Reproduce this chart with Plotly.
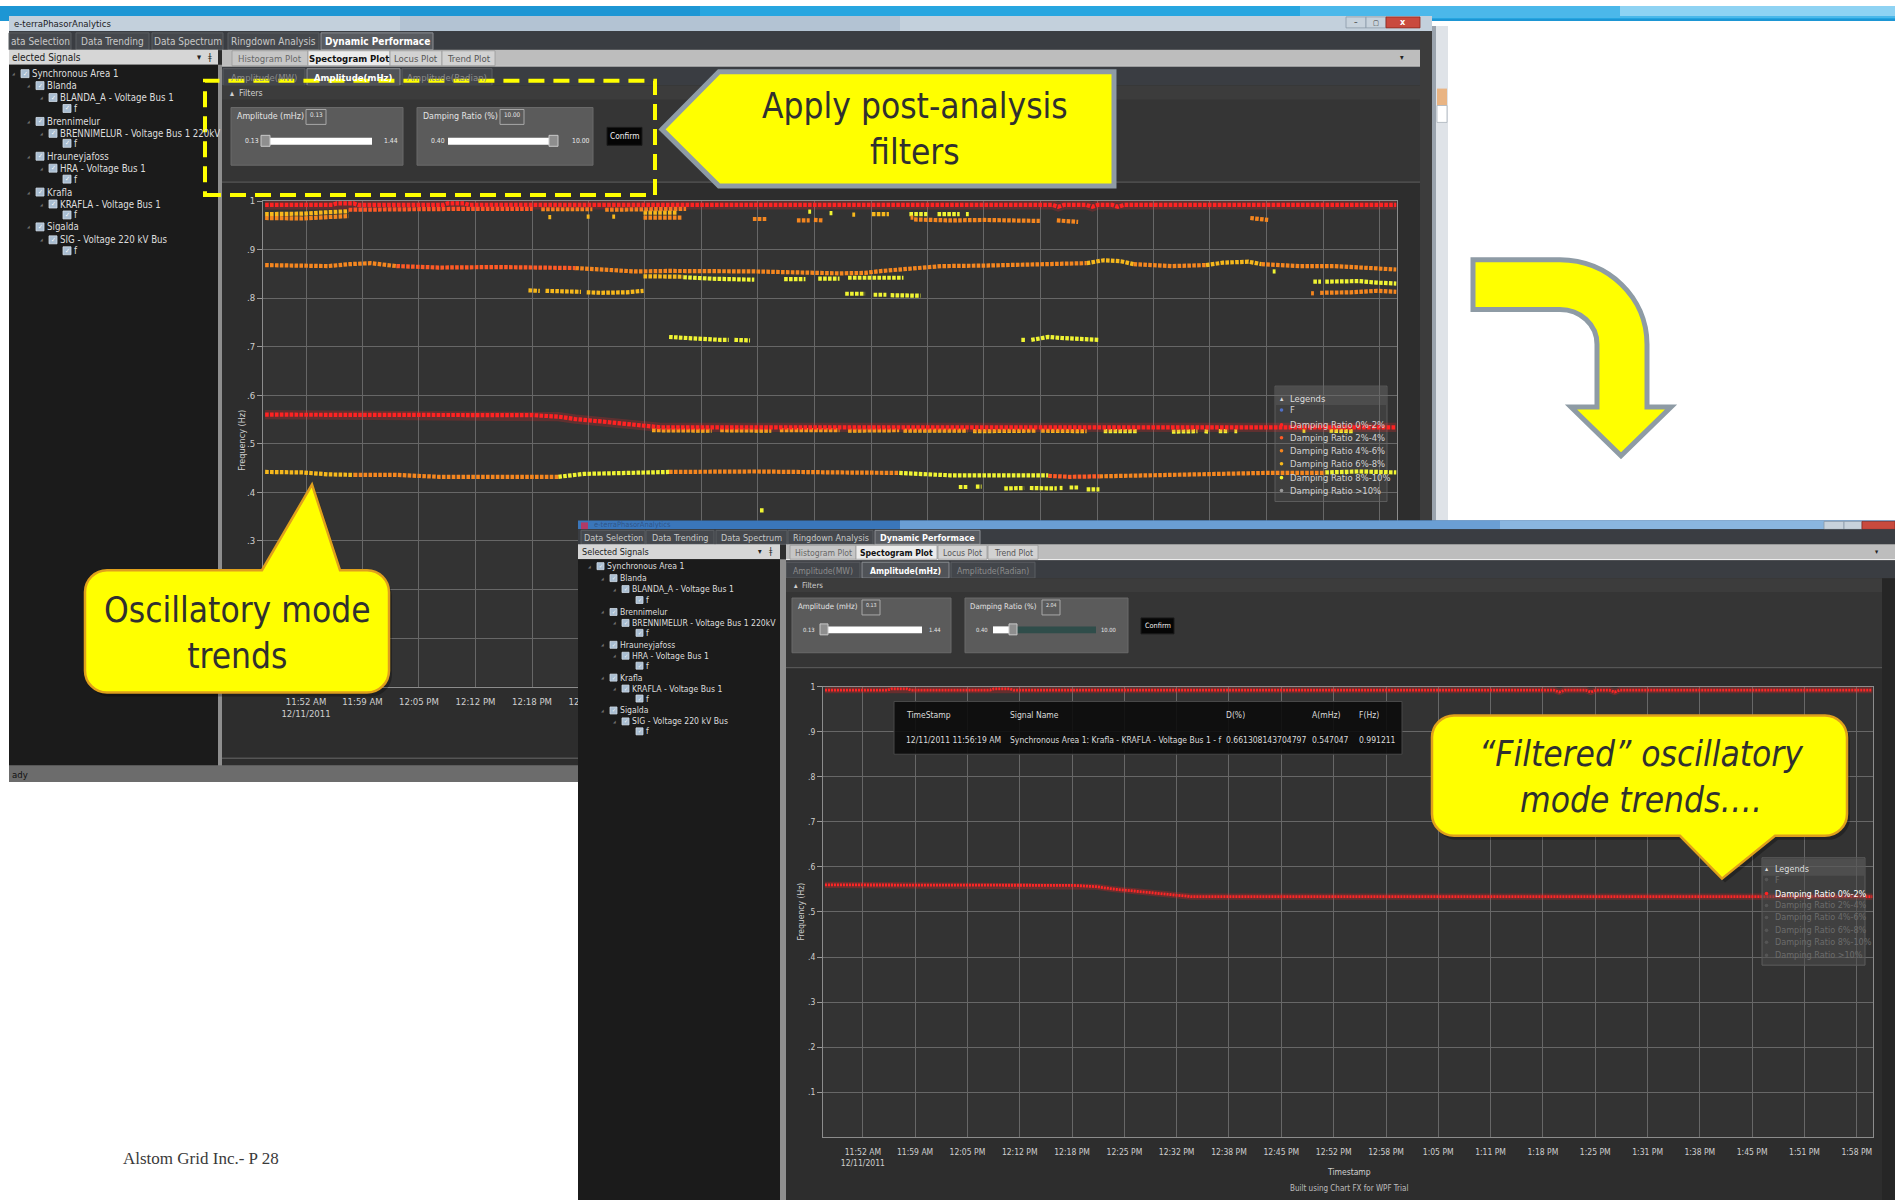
import pandas as pd
import plotly.graph_objects as go

W, H = 1895, 1200
DAY = "2011-12-11 "
UI = "Liberation Sans Narrow, DejaVu Sans Condensed, Arial Narrow, sans-serif"
SERIF = "Liberation Serif, DejaVu Serif, serif"

# ---------------------------------------------------------------- data
tick_labels = ["11:52 AM<br>12/11/2011", "11:59 AM", "12:05 PM", "12:12 PM", "12:18 PM",
               "12:25 PM", "12:32 PM", "12:38 PM", "12:45 PM", "12:52 PM", "12:58 PM",
               "1:05 PM", "1:11 PM", "1:18 PM", "1:25 PM", "1:31 PM", "1:38 PM",
               "1:45 PM", "1:51 PM", "1:58 PM"]
y_tick_values = [0.1, 0.2, 0.3, 0.4, 0.5, 0.6, 0.7, 0.8, 0.9, 1.0]
y_tick_labels = [".1", ".2", ".3", ".4", ".5", ".6", ".7", ".8", ".9", "1"]

# damping ratio 0%-2% : mode near 1 Hz and the inter-area mode near 0.55 Hz
dr_0_2_upper_time = ["11:47:36", "11:55:30", "11:56", "11:58", "11:58:30", "12:08:30", "12:09", "12:11",
                     "12:11:30", "13:20", "13:20:40", "13:21:20", "13:24", "13:24:40", "13:25:20",
                     "13:27", "13:27:40", "13:28:20", "14:00:20"]
dr_0_2_upper_freq = [0.992, 0.992, 0.995, 0.995, 0.992, 0.992, 0.995, 0.995,
                     0.992, 0.992, 0.988, 0.992, 0.992, 0.988, 0.992,
                     0.992, 0.988, 0.992, 0.992]
dr_0_2_mode_time = ["11:47:36", "12:10", "12:19", "12:22", "12:24", "12:27", "12:29:30", "12:32",
                    "12:34", "13:00", "13:30", "14:00:20"]
dr_0_2_mode_freq = [0.560, 0.559, 0.559, 0.556, 0.551, 0.546, 0.542, 0.537,
                    0.534, 0.534, 0.534, 0.534]

# damping ratio 2%-4%
dr_2_4_time = ["12:03", "12:08", "12:15", "12:24", None,
               "13:19:30", "13:22", "13:25:30", None,
               "11:57:24", "12:05", "12:12", "12:19"]
dr_2_4_freq = [0.866, 0.863, 0.864, 0.862, None,
               0.434, 0.432, 0.433, None,
               0.982, 0.984, 0.984, 0.984]

# damping ratio 4%-6%
dr_4_6_time = ["11:47:36", "11:52", "11:55", "11:57:30", "12:00", "12:03", None,
               "12:24", "12:28", "12:31", "12:35", "12:45", "12:55", "12:58", "13:00", "13:04",
               "13:07", "13:12", "13:17", "13:22", "13:24", None,
               "13:29:30", "13:34", "13:38", None,
               "13:44:30", "13:49", "13:53", "13:57", "14:00:20", None,
               "11:58", "12:03", "12:08", "12:15", "12:22", None,
               "12:35", "12:45", "12:55", "13:02", None,
               "13:25:30", "13:32", "13:38", "13:45", "13:52", None,
               "11:47:36", "11:52", "11:55", "11:57:24", None,
               "12:20", "12:26", None, "12:27:30", "12:32", "12:37", None,
               "12:32", "12:36:30", None,
               "12:44:50", "12:46:30", None, "12:50", "12:51:30", None, "12:52", "12:53", None,
               "13:03:20", "13:03:40", None,
               "13:03:45", "13:08", "13:12", "13:16", "13:18:30", None,
               "13:20:30", "13:23", None, "13:43:12", "13:45:18", None,
               "13:51:24", "13:55", "13:58", "14:00:20", None, "13:50:20", "13:50:40"]
dr_4_6_freq = [0.868, 0.867, 0.866, 0.870, 0.872, 0.866, None,
               0.862, 0.857, 0.855, 0.856, 0.855, 0.851, 0.852, 0.856, 0.861,
               0.866, 0.867, 0.869, 0.870, 0.872, None,
               0.870, 0.866, 0.868, None,
               0.870, 0.866, 0.866, 0.862, 0.859, None,
               0.436, 0.436, 0.432, 0.431, 0.432, None,
               0.442, 0.443, 0.441, 0.440, None,
               0.433, 0.436, 0.438, 0.440, 0.440, None,
               0.965, 0.964, 0.967, 0.969, None,
               0.983, 0.983, None, 0.982, 0.982, 0.984, None,
               0.966, 0.966, None,
               0.963, 0.963, None, 0.960, 0.960, None, 0.961, 0.960, None,
               0.966, 0.966, None,
               0.962, 0.960, 0.961, 0.960, 0.959, None,
               0.960, 0.957, None, 0.965, 0.961, None,
               0.811, 0.812, 0.815, 0.813, None, 0.810, 0.810]

# damping ratio 6%-8%
dr_6_8_time = ["13:24", "13:26", "13:28", "13:29:30", None,
               "13:38", "13:40", "13:43", "13:44:30", None,
               "11:47:36", "11:52", "11:55", "11:58", None,
               "11:47:36", "11:52", "11:55", "11:57:24", None,
               "12:32", "12:36", None,
               "12:20:50", "12:21:10", None, "12:25:20", "12:25:40", None, "12:28:20", "12:28:40", None,
               "12:56:30", "12:56:50", None, "12:58:48", "13:00:48", None,
               "12:32", "12:36:40", None,
               "12:18:30", "12:19:50", None, "12:20:30", "12:24", "12:24:40", None,
               "12:25:20", "12:27", "12:30", "12:32", None,
               "12:33", "12:40", None, "12:41", "12:47", None, "12:48", "12:55", None,
               "12:56", "13:02", None, "13:02:30", "13:10", None, "13:10:40", "13:18", None,
               "13:18:40", "13:24"]
dr_6_8_freq = [0.872, 0.878, 0.876, 0.870, None,
               0.868, 0.873, 0.875, 0.870, None,
               0.442, 0.441, 0.437, 0.436, None,
               0.973, 0.974, 0.977, 0.979, None,
               0.976, 0.976, None,
               0.967, 0.967, None, 0.968, 0.968, None, 0.968, 0.968, None,
               0.972, 0.972, None, 0.973, 0.973, None,
               0.845, 0.844, None,
               0.816, 0.815, None, 0.815, 0.814, 0.813, None,
               0.812, 0.811, 0.812, 0.815, None,
               0.528, 0.527, None, 0.528, 0.527, None, 0.528, 0.528, None,
               0.527, 0.528, None, 0.527, 0.527, None, 0.526, 0.527, None,
               0.527, 0.526]

# damping ratio 8%-10%
dr_8_10_time = ["12:22", "12:25", "12:30", "12:35", None,
                "13:02", "13:08", "13:14", "13:19:30", None,
                "13:52", "13:56", "14:00:20", None,
                "12:36:40", "12:40", "12:45", None, "12:48:30", "12:51", None,
                "12:52:30", "12:55", None, "12:56", "13:00", "13:02:30", None,
                "13:45:50", "13:46:10", None,
                "13:50:36", "13:51:30", None, "13:52", "13:56", "13:58", "14:00:20", None,
                "12:55:40", "12:58", None, "12:59", "13:00:30", None, "13:01", "13:04:30", None,
                "12:35", "12:37", "12:39", "12:41", "12:42", None, "12:42:40", "12:44:30", None,
                "13:16:20", "13:16:50", None,
                "13:17:30", "13:18:30", "13:19:30", "13:21", "13:23", "13:25:30", None,
                "12:51:20", "12:51:40", None, "12:53:50", "12:54:10", None,
                "13:03:12", "13:05:18", None, "13:06:30", "13:09:06", None, "13:09:50", "13:10:10", None,
                "13:26", "13:30", None, "13:34", "13:37", None, "13:37:50", "13:38:20", None,
                "13:39:30", "13:40:40", None, "13:41:20", "13:41:40", None,
                "13:49:20", "13:49:40", None, "13:52:30", "13:55:20", None,
                "13:09", "13:10", None, "13:11", "13:11:40", None,
                "13:14:20", "13:16", "13:16:40", None, "13:17:20", "13:18", "13:20:30", None,
                "13:20:50", "13:21:10", None, "13:22", "13:23", None, "13:24", "13:25:30", None,
                "12:45:40", "12:46:10"]
dr_8_10_freq = [0.432, 0.438, 0.440, 0.442, None,
                0.440, 0.435, 0.435, 0.435, None,
                0.441, 0.443, 0.441, None,
                0.843, 0.840, 0.838, None, 0.839, 0.839, None,
                0.840, 0.840, None, 0.842, 0.843, 0.842, None,
                0.855, 0.855, None,
                0.834, 0.834, None, 0.834, 0.835, 0.832, 0.830, None,
                0.809, 0.809, None, 0.807, 0.807, None, 0.806, 0.805, None,
                0.720, 0.719, 0.716, 0.714, 0.714, None, 0.714, 0.713, None,
                0.714, 0.714, None,
                0.714, 0.716, 0.720, 0.718, 0.716, 0.714, None,
                0.978, 0.978, None, 0.975, 0.975, None,
                0.973, 0.973, None, 0.973, 0.973, None, 0.973, 0.973, None,
                0.526, 0.526, None, 0.525, 0.526, None, 0.526, 0.525, None,
                0.526, 0.526, None, 0.526, 0.526, None,
                0.527, 0.527, None, 0.527, 0.526, None,
                0.411, 0.411, None, 0.412, 0.412, None,
                0.408, 0.410, 0.409, None, 0.409, 0.409, 0.408, None,
                0.409, 0.409, None, 0.410, 0.410, None, 0.406, 0.406, None,
                0.363, 0.363]

legend_labels = ["F", "Damping Ratio 0%-2%", "Damping Ratio 2%-4%", "Damping Ratio 4%-6%",
                 "Damping Ratio 6%-8%", "Damping Ratio 8%-10%", "Damping Ratio >10%"]

tooltip_headers = ["TimeStamp", "Signal Name", "D(%)", "A(mHz)", "F(Hz)"]
tooltip_values = ["12/11/2011 11:56:19 AM", "Synchronous Area 1: Krafla - KRAFLA - Voltage Bus 1 - f",
                  "0.661308143704797", "0.547047", "0.991211"]

tree_rows = [(0, "Synchronous Area 1"), (1, "Blanda"), (2, "BLANDA_A - Voltage Bus 1"), (3, "f"),
             (1, "Brennimelur"), (2, "BRENNIMELUR - Voltage Bus 1 220kV"), (3, "f"),
             (1, "Hrauneyjafoss"), (2, "HRA - Voltage Bus 1"), (3, "f"),
             (1, "Krafla"), (2, "KRAFLA - Voltage Bus 1"), (3, "f"),
             (1, "Sigalda"), (2, "SIG - Voltage 220 kV Bus"), (3, "f")]

# ---------------------------------------------------------------- styles
C02, C24, C46, C68, C810, CGT, CF = "#ff2222", "#ff5a26", "#f5861f", "#f7b81c", "#f0f433", "#9a9a9a", "#5070c8"
legend_colors = [CF, C02, C24, C46, C68, C810, CGT]

tick_start = pd.Timestamp(DAY + "11:52:24")
tick_step = pd.Timedelta(seconds=397.8)
tick_vals = [(tick_start + i * tick_step).strftime("%Y-%m-%d %H:%M:%S") for i in range(len(tick_labels))]
x_range = [DAY + "11:47:21", DAY + "14:00:25"]

# the upper window only shows the labels that are not hidden behind the lower window / callout
w1_tick_labels = [s if i < 6 else "" for i, s in enumerate(tick_labels)]
w1_y_tick_labels = [s if v >= 0.3 else "" for v, s in zip(y_tick_values, y_tick_labels)]


def stamp(seq):
    return [None if t is None else DAY + t for t in seq]


shapes, notes = [], []


def X(v):
    return v / W


def Y(v):
    return 1 - v / H


def P(x, y):
    return f"{X(x):.5f},{Y(y):.5f}"


def rect(x0, y0, x1, y1, fill, line=None, lw=0, layer="below", dash=None):
    ln = dict(color=line if line else "rgba(0,0,0,0)", width=lw)
    if dash:
        ln["dash"] = dash
    shapes.append(dict(type="rect", xref="paper", yref="paper", x0=X(x0), y0=Y(y1), x1=X(x1), y1=Y(y0),
                       fillcolor=fill, line=ln, layer=layer))


def seg(x0, y0, x1, y1, color, lw=1, layer="below"):
    shapes.append(dict(type="line", xref="paper", yref="paper", x0=X(x0), y0=Y(y0), x1=X(x1), y1=Y(y1),
                       line=dict(color=color, width=lw), layer=layer))


def dot(x, y, r, color, layer="above"):
    shapes.append(dict(type="circle", xref="paper", yref="paper", x0=X(x - r), x1=X(x + r), y0=Y(y + r),
                       y1=Y(y - r), fillcolor=color, line=dict(width=0), layer=layer))


def path(d, fill, line, lw, layer="above"):
    shapes.append(dict(type="path", xref="paper", yref="paper", path=d, fillcolor=fill,
                       line=dict(color=line, width=lw), layer=layer))


def txt(x, y, s, size=10, color="#d6d6d6", anchor="left", family=UI, bold=False, italic=False, angle=0):
    if bold:
        s = f"<b>{s}</b>"
    if italic:
        s = f"<i>{s}</i>"
    notes.append(dict(xref="paper", yref="paper", x=X(x), y=Y(y), text=s, showarrow=False, xanchor=anchor,
                      yanchor="middle", textangle=angle, font=dict(size=size, color=color, family=family)))


K = 0.5523


def callout(x0, y0, x1, y1, r, side, xa, xb, tx, ty, dx=0, dy=0):
    x0, x1, xa, xb, tx = x0 + dx, x1 + dx, xa + dx, xb + dx, tx + dx
    y0, y1, ty = y0 + dy, y1 + dy, ty + dy
    k = K * r
    d = f"M {P(x0 + r, y0)}"
    if side == "top":
        d += f" L {P(xa, y0)} L {P(tx, ty)} L {P(xb, y0)}"
    d += f" L {P(x1 - r, y0)} C {P(x1 - r + k, y0)} {P(x1, y0 + r - k)} {P(x1, y0 + r)}"
    d += f" L {P(x1, y1 - r)} C {P(x1, y1 - r + k)} {P(x1 - r + k, y1)} {P(x1 - r, y1)}"
    if side == "bottom":
        d += f" L {P(xb, y1)} L {P(tx, ty)} L {P(xa, y1)}"
    d += f" L {P(x0 + r, y1)} C {P(x0 + r - k, y1)} {P(x0, y1 - r + k)} {P(x0, y1 - r)}"
    d += f" L {P(x0, y0 + r)} C {P(x0, y0 + r - k)} {P(x0 + r - k, y0)} {P(x0 + r, y0)} Z"
    return d


def tabs(items, y0, y1, active, size, layer, fill="#45484d", afill="#585b60", tcol="#c8c8c8"):
    for i, (label, a, b) in enumerate(items):
        on = i == active
        rect(a, y0, b, y1, afill if on else fill, "#8c8f93" if on else "#5b5e62", 1, layer)
        txt((a + b) / 2, (y0 + y1) / 2 + 0.5, label, size,
            "#ffffff" if on else tcol, "center", bold=on)


def tree(ys, xs, size, box, layer):
    for (lvl, label), y in zip(tree_rows, ys):
        cx = xs[lvl]
        if lvl < 3:
            txt(cx - 8, y, "◢", 4, "#6e6e6e", "center")
        rect(cx, y - box / 2, cx + box, y + box / 2, "#a9bdd1", "#d2dde8", 0.8, layer)
        txt(cx + box / 2, y, "✓", size - 3, "#ffffff", "center")
        txt(cx + box + 1, y, label, size, "#dedede")


def subtabs(items, y0, y1, size, layer):
    for label, a, b, fill, col, bold in items:
        rect(a, y0, b, y1, fill, "#9a9a9a", 0.8, layer)
        txt((a + b) / 2, (y0 + y1) / 2 + 0.5, label, size, col, "center", bold=bold)


def filters(x_left, x_right, y_head, y_sep, amp, damp, confirm, size, layer):
    rect(x_left, y_head, x_right, y_sep, "#353535", layer=layer)
    rect(x_left, y_head, x_right, y_head + 14, "#3c3c3c", layer=layer)
    seg(x_left, y_sep, x_right, y_sep, "#565656", 1.2, layer)
    txt(x_left + 6, y_head + 7, "▴  Filters", size, "#d0d0d0")
    for p in (amp, damp):
        (bx0, by0, bx1, by1, title, tx, vbox, val, lo, lo_x, bar_w, thumb, rest, hi, hi_x, sy) = p
        rect(bx0, by0, bx1, by1, "#5b5b5b", "#6a6a6a", 1, layer)
        txt(tx, by0 + 9, title, size, "#e4e4e4")
        rect(vbox[0], by0 + 2, vbox[1], by0 + 17, "rgba(0,0,0,0)", "#a8a8a8", 1, layer)
        txt((vbox[0] + vbox[1]) / 2, by0 + 7, val, size - 2.5, "#e8e8e8", "center")
        txt(lo_x, sy, lo, size - 2, "#e8e8e8")
        rect(bar_w[0], sy - 3.5, bar_w[1], sy + 3.5, "#ffffff", layer=layer)
        if rest:
            rect(rest[0], sy - 3.5, rest[1], sy + 3.5, "#2f4d4a", layer=layer)
        rect(thumb[0], sy - 6, thumb[1], sy + 5, "#8e8e8e", "#c8c8c8", 1, layer)
        txt(hi_x, sy, hi, size - 2, "#e8e8e8")
    cx0, cy0, cx1, cy1 = confirm
    rect(cx0, cy0, cx1, cy1, "#050505", "#1a1a1a", 1, layer)
    txt((cx0 + cx1) / 2, (cy0 + cy1) / 2, "Confirm", size - 0.5, "#f2f2f2", "center")


def legend_panel(x0, y0, x1, y1, ys, tx, dx, size, fill, text_cols, dot_cols, layer):
    rect(x0, y0, x1, y1, fill, "#5c5c5c", 1, layer)
    rect(x0 + 1, y0 + 1, x1 - 1, ys[0] + 7, "rgba(95,95,95,0.45)", layer=layer)
    txt(dx - 2, ys[0], "▴", size - 2, "#d8d8d8")
    txt(tx, ys[0], "Legends", size, "#dedede")
    for label, y, tc, dc in zip(legend_labels, ys[1:], text_cols, dot_cols):
        dot(dx + 1.5, y, 1.8, dc)
        txt(tx, y, label, size, tc)


# ---------------------------------------------------------------- slide background
rect(0, 0, 1895, 15, "#1d96d4")
rect(700, 0, 1895, 13, "#27a6e0")
rect(1300, 0, 1895, 12, "#4bb8ea")
rect(1620, 0, 1895, 10, "#8fd3f3")

# ---------------------------------------------------------------- window 1 chrome
rect(9, 10, 1432, 780, "#2b2b2b")
rect(9, 10, 1432, 25, "#c3d0dc")
rect(400, 10, 900, 25, "#b3c3d3")
txt(12, 18, "e-terraPhasorAnalytics", 9.5, "#1c1c1c")
rect(1346, 11, 1366, 22, "#c7d2dc", "#8c9aa8", 0.8)
rect(1366, 11, 1386, 22, "#c7d2dc", "#8c9aa8", 0.8)
rect(1386, 11, 1420, 22, "#c94a3e", "#8a2a20", 0.8)
txt(1356, 17, "–", 8, "#333", "center")
txt(1376, 17, "▢", 7, "#333", "center")
txt(1403, 16.5, "x", 9, "#ffffff", "center", bold=True)
rect(9, 25, 1432, 44, "#3a3d42")
tabs([("ata Selection", 9, 71), ("Data Trending", 76, 149), ("Data Spectrum", 152, 223),
      ("Ringdown Analysis", 228, 319), ("Dynamic Performace", 321, 433)], 27, 44, 4, 10, "below")
rect(9, 44, 218, 59, "#d6d6d6")
txt(10, 51.5, "elected Signals", 10, "#202020")
txt(199, 51, "▾", 9, "#222", "center")
txt(210, 51, "ǂ", 9, "#222", "center")
rect(222, 44, 1420, 60, "#bdbdbd")
seg(222, 60.5, 1420, 60.5, "#ececec", 1.5)
subtabs([("Histogram Plot", 232, 308, "#c6c6c6", "#666666", False),
         ("Spectogram Plot", 308, 390, "#ececec", "#111111", True),
         ("Locus Plot", 390, 442, "#d2d2d2", "#555555", False),
         ("Trend Plot", 442, 495, "#d2d2d2", "#555555", False)], 45, 60, 9.5, "below")
txt(1402, 52, "▾", 8, "#222", "center")
rect(222, 61, 1420, 770, "#2d2d2d")
rect(1420, 25, 1432, 780, "#3c3c3c")
rect(222, 61, 1420, 80, "#3a3d42")
tabs([("Amplitude(MW)", 223, 305), ("Amplitude(mHz)", 307, 400), ("Amplitude(Radian)", 402, 492)],
     63, 80, 1, 9.5, "below", fill="#43464b", afill="#505358", tcol="#8c8c8c")
filters(222, 1420, 80, 177,
        (231, 102, 403, 160, "Amplitude (mHz)", 235, (306, 326), "0.13", "0.13", 243, (270, 372),
         (261, 270), None, "1.44", 382, 136),
        (417, 102, 593, 160, "Damping Ratio (%)", 421, (500, 524), "10.00", "0.40", 429, (448, 553),
         (549, 558), None, "10.00", 570, 136),
        (607, 122, 642, 140), 8.8, "below")
rect(9, 59, 218, 764, "#1b1b1b")
rect(218, 59, 222, 764, "#8e8e8e")
tree([68, 80, 92, 103, 116, 128, 138, 151, 163, 174, 187, 199, 210, 222, 235, 246],
     [21, 36, 49, 63], 9.6, 8, "below")
seg(222, 756, 1420, 756, "#555555", 1.5)
rect(9, 763, 1432, 780, "#6c6c6c")
txt(10, 772, "ady", 9.5, "#111111")
# neighbouring window sliver
rect(1432, 20, 1448, 517, "#dfe3e8")
rect(1432, 20, 1436, 517, "#9aa3ad")
rect(1437, 83, 1447, 100, "#e9b483")
rect(1437, 100, 1447, 117, "#ffffff", "#aab2bb", 0.8)

# window 1 plot background and legend (under the data)
rect(263, 196, 1397, 684, "#333333")
legend_panel(1275, 382, 1387, 498, [394, 406, 421, 434, 447, 460, 474, 487], 1288, 1280, 9.4,
             "rgba(72,72,72,0.55)", ["#d2d2d2"] * 7, legend_colors, "below")

# ---------------------------------------------------------------- window 2 chrome (on top of its backdrop)
A = "above"
rect(578, 517, 1895, 526, "#3a76ba", layer=A)
rect(900, 517, 1500, 526, "#6a9ed4", layer=A)
rect(1500, 517, 1895, 526, "#8ab6e0", layer=A)
rect(581, 519, 588, 526, "#b23a66", layer=A)
txt(592, 521.5, "e-terraPhasorAnalytics", 7.5, "rgba(30,40,70,0.45)")
rect(1824, 518, 1844, 526, "#c7d2dc", "#8c9aa8", 0.8, A)
rect(1844, 518, 1862, 526, "#c7d2dc", "#8c9aa8", 0.8, A)
rect(1862, 518, 1895, 526, "#c94a3e", "#8a2a20", 0.8, A)
rect(578, 526, 1895, 541, "#3a3d42", layer=A)
tabs([("Data Selection", 581, 645), ("Data Trending", 646, 714), ("Data Spectrum", 716, 787),
      ("Ringdown Analysis", 788, 873), ("Dynamic Performace", 875, 980)], 527, 541, 4, 9, A)
rect(578, 541, 780, 556, "#d6d6d6", layer=A)
txt(580, 548.5, "Selected Signals", 9, "#202020")
txt(760, 548, "▾", 8, "#222", "center")
txt(771, 548, "ǂ", 8, "#222", "center")
rect(786, 541, 1895, 556, "#bdbdbd", layer=A)
seg(786, 556.5, 1895, 556.5, "#ececec", 1.5, A)
subtabs([("Histogram Plot", 790, 856, "#c6c6c6", "#666666", False),
         ("Spectogram Plot", 856, 937, "#ececec", "#111111", True),
         ("Locus Plot", 938, 987, "#d2d2d2", "#555555", False),
         ("Trend Plot", 988, 1038, "#d2d2d2", "#555555", False)], 542, 556, 8.6, A)
txt(1877, 549, "▾", 7, "#222", "center")
rect(786, 557, 1895, 575, "#3a3d42", layer=A)
tabs([("Amplitude(MW)", 786, 860), ("Amplitude(mHz)", 862, 949), ("Amplitude(Radian)", 951, 1035)],
     559, 575, 1, 8.6, A, fill="#43464b", afill="#505358", tcol="#8c8c8c")
filters(786, 1895, 575, 665,
        (792, 595, 951, 650, "Amplitude (mHz)", 796, (862, 880), "0.13", "0.13", 801, (828, 922),
         (820, 828), None, "1.44", 927, 627),
        (965, 595, 1128, 650, "Damping Ratio (%)", 968, (1042, 1060), "2.04", "0.40", 974, (993, 1010),
         (1009, 1017), (1017, 1096), "10.00", 1099, 627),
        (1141, 615, 1174, 631), 7.8, A)
rect(578, 556, 780, 1200, "#1b1b1b", layer=A)
rect(780, 556, 786, 1200, "#8e8e8e", layer=A)
tree([563, 575, 586, 597, 609, 620, 630, 642, 653, 663, 675, 686, 696, 708, 719, 729],
     [597, 610, 622, 636], 8.6, 7, A)
rect(1882, 575, 1895, 1200, "#262626", layer=A)

# tooltip over the filtered chart
rect(894, 699, 1402, 752, "rgba(10,10,10,0.88)", "#484848", 1, A)
for head, val, x in zip(tooltip_headers, tooltip_values, [904, 1008, 1224, 1310, 1357]):
    txt(x, 713, head, 8.5, "#dcdcdc")
    txt(x, 738, val, 8.5, "#dcdcdc")

# legend of the filtered chart: only the 0%-2% class remains active
legend_panel(1762, 856, 1865, 964, [867, 878, 892, 904, 916, 929, 941, 954], 1773, 1765, 9,
             "rgba(78,78,78,0.5)",
             ["#6c6c6c", "#ffffff", "#6c6c6c", "#6c6c6c", "#6c6c6c", "#6c6c6c", "#6c6c6c"],
             ["#555555", C02, "#555555", "#555555", "#555555", "#555555", "#555555"], A)

txt(1349, 1172, "Timestamp", 8.5, "#cfcfcf", "center")
txt(1349, 1188, "Built using Chart FX for WPF Trial", 8, "#bdbdbd", "center")
txt(801, 910, "Frequency (Hz)", 8.5, "#cfcfcf", "center", angle=-90)
txt(242, 437, "Frequency (Hz)", 9, "#cfcfcf", "center", angle=-90)

# ---------------------------------------------------------------- callouts
BORDER = "#8e9ba5"
path(f"M {P(662, 124)} L {P(719, 66)} L {P(1114, 66)} L {P(1114, 181)} L {P(719, 181)} Z",
     "#ffff00", BORDER, 5)
txt(915, 124, "Apply post-analysis<br>filters", 35, "#303030", "center")

rect(205, 75, 655, 190, "rgba(0,0,0,0)", "#ffff00", 4, A, dash="16px,9px")

path(callout(85, 567, 389, 690, 22, "top", 262, 340, 312, 481, 3, 4), "rgba(0,0,0,0.28)",
     "rgba(0,0,0,0)", 0)
path(callout(85, 567, 389, 690, 22, "top", 262, 340, 312, 481), "#ffff00", "#e0a01c", 2.5)
txt(237, 630, "Oscillatory mode<br>trends", 35, "#303030", "center")

path(callout(1432, 713, 1847, 834, 22, "bottom", 1680, 1775, 1722, 877, 3, 4), "rgba(0,0,0,0.28)",
     "rgba(0,0,0,0)", 0)
path(callout(1432, 713, 1847, 834, 22, "bottom", 1680, 1775, 1722, 877), "#ffff00", "#e0a01c", 2.5)
txt(1641, 775, "“Filtered” oscillatory<br>mode trends….", 35, "#303030", "center", italic=True)

# bent arrow pointing to the filtered view
path(f"M {P(1473, 255)} L {P(1560, 255)} C {P(1608, 255)} {P(1647, 293)} {P(1647, 340)} "
     f"L {P(1647, 403)} L {P(1671, 403)} L {P(1621, 452)} L {P(1571, 403)} L {P(1597, 403)} "
     f"L {P(1597, 340)} C {P(1597, 320)} {P(1580, 305)} {P(1560, 305)} L {P(1473, 305)} Z",
     "#ffff00", BORDER, 5)

txt(121, 1158, "Alstom Grid Inc.- P 28", 17, "#3a3a3a", family=SERIF)

# ---------------------------------------------------------------- traces
fig = go.Figure()


def dotted(t, f, color, width, dash, axis, glow=None):
    if glow:
        fig.add_trace(go.Scatter(x=stamp(t), y=f, mode="lines", xaxis=axis[0], yaxis=axis[1],
                                 line=dict(color=glow, width=width * 2.2), hoverinfo="skip", showlegend=False))
    fig.add_trace(go.Scatter(x=stamp(t), y=f, mode="lines", xaxis=axis[0], yaxis=axis[1],
                             line=dict(color=color, width=width, dash=dash), hoverinfo="skip", showlegend=False))


W1 = ("x", "y")
for t, f, c in [(dr_8_10_time, dr_8_10_freq, C810), (dr_6_8_time, dr_6_8_freq, C68),
                (dr_4_6_time, dr_4_6_freq, C46), (dr_2_4_time, dr_2_4_freq, C24)]:
    dotted(t, f, c, 4.2, "3.6px,1.3px", W1)
for t, f in [(dr_0_2_upper_time, dr_0_2_upper_freq), (dr_0_2_mode_time, dr_0_2_mode_freq)]:
    dotted(t, f, C02, 4.2, "3.6px,1.3px", W1, glow="rgba(255,40,40,0.22)")

# backdrop of the second window: covers the first one where they overlap
px0, px1, py0, py1 = 578, 1895, 517, 1200
fig.add_trace(go.Scatter(x=[0, 1, 1, 0, 0], y=[0, 0, 1, 1, 0], mode="lines", fill="toself",
                         fillcolor="#2d2d2d", line=dict(width=0), xaxis="x2", yaxis="y2",
                         hoverinfo="skip", showlegend=False))
qx0, qx1 = (823 - px0) / (px1 - px0), (1873 - px0) / (px1 - px0)
qy0, qy1 = (py1 - 1137) / (py1 - py0), (py1 - 684) / (py1 - py0)
fig.add_trace(go.Scatter(x=[qx0, qx1, qx1, qx0, qx0], y=[qy0, qy0, qy1, qy1, qy0], mode="lines",
                         fill="toself", fillcolor="#333333", line=dict(width=0), xaxis="x2", yaxis="y2",
                         hoverinfo="skip", showlegend=False))

W2 = ("x3", "y3")
for t, f in [(dr_0_2_upper_time, dr_0_2_upper_freq), (dr_0_2_mode_time, dr_0_2_mode_freq)]:
    dotted(t, f, "#ff2626", 2.8, "2px,1px", W2, glow="rgba(255,30,30,0.25)")


def time_axis(domain, fs, labels):
    return dict(domain=domain, type="date", range=x_range, tickmode="array", tickvals=tick_vals,
                ticktext=labels, showgrid=True, gridcolor="#676767", gridwidth=1, zeroline=False,
                showline=True, linecolor="#8c8c8c", linewidth=1, mirror=True, ticks="outside", ticklen=6,
                tickcolor="rgba(0,0,0,0)", tickfont=dict(size=fs, color="#cfcfcf", family=UI),
                fixedrange=True)


def freq_axis(domain, fs, labels):
    return dict(domain=domain, range=[0, 1], tickmode="array", tickvals=y_tick_values, ticktext=labels,
                showgrid=True, gridcolor="#676767", gridwidth=1, zeroline=False, showline=True,
                linecolor="#8c8c8c", linewidth=1, mirror=True, ticks="outside", ticklen=5, tickcolor="#9a9a9a",
                tickfont=dict(size=fs, color="#cfcfcf", family=UI), fixedrange=True)


fig.update_layout(
    width=W, height=H, autosize=False, margin=dict(l=0, r=0, t=0, b=0),
    paper_bgcolor="#ffffff", plot_bgcolor="rgba(0,0,0,0)", showlegend=False, hovermode=False,
    xaxis=dict(time_axis([X(263), X(1397)], 9.5, w1_tick_labels), anchor="y"),
    yaxis=dict(freq_axis([Y(684), Y(196)], 9.5, w1_y_tick_labels), anchor="x"),
    xaxis2=dict(domain=[X(px0), X(px1)], range=[0, 1], visible=False, anchor="y2", fixedrange=True),
    yaxis2=dict(domain=[Y(py1), Y(py0)], range=[0, 1], visible=False, anchor="x2", fixedrange=True),
    xaxis3=dict(time_axis([X(823), X(1873)], 8.5, tick_labels), anchor="y3"),
    yaxis3=dict(freq_axis([Y(1137), Y(684)], 8.5, y_tick_labels), anchor="x3"),
    shapes=shapes, annotations=notes,
)

fig.write_html("out.html", config={"displayModeBar": False, "staticPlot": True})
